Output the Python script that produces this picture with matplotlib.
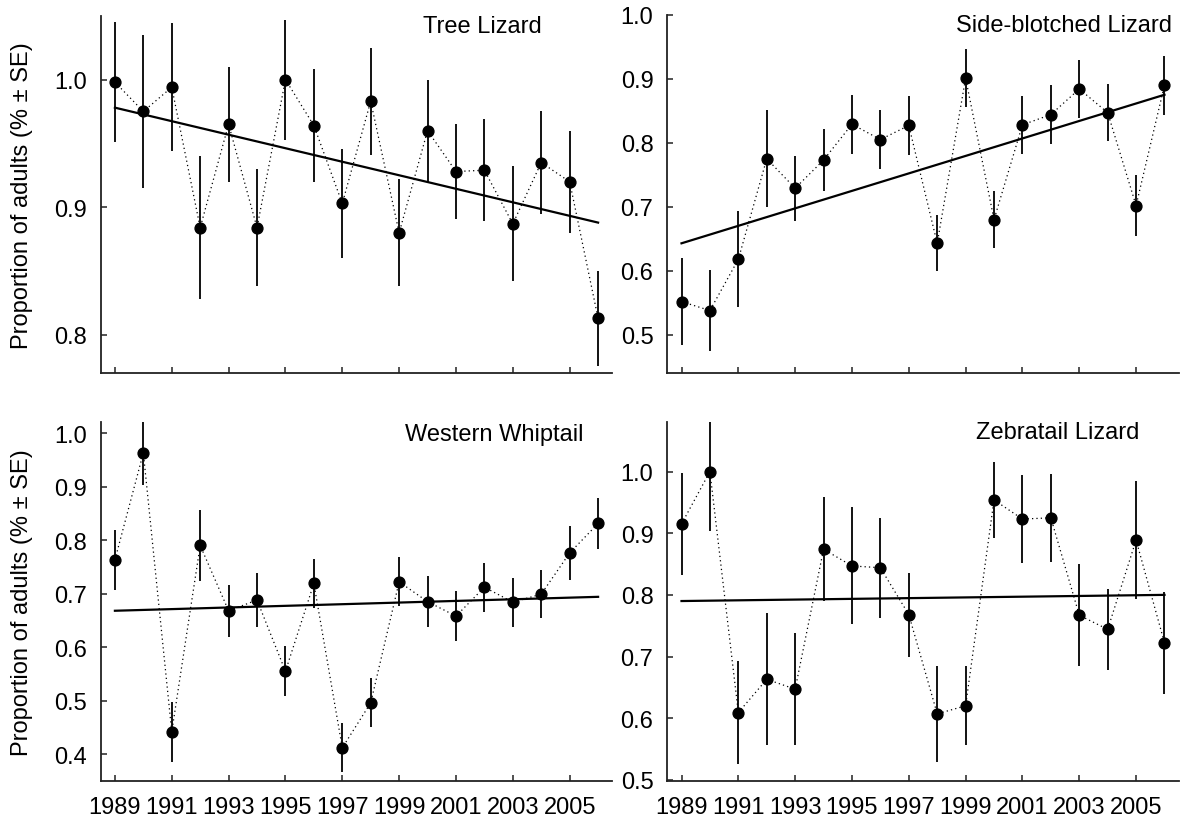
import numpy as np
import matplotlib
matplotlib.use("Agg")
import matplotlib.pyplot as plt

plt.rcParams['font.family'] = ['Liberation Sans', 'DejaVu Sans']

years = np.arange(1989, 2007)

tree_mean = [0.998, 0.975, 0.994, 0.884, 0.965, 0.884, 1.000, 0.964, 0.903, 0.983,
             0.880, 0.960, 0.928, 0.929, 0.887, 0.935, 0.920, 0.813]
tree_se = [0.047, 0.060, 0.050, 0.056, 0.045, 0.046, 0.047, 0.044, 0.043, 0.042,
           0.042, 0.040, 0.037, 0.040, 0.045, 0.040, 0.040, 0.037]
tree_trend = [0.978, 0.888]

side_mean = [0.552, 0.538, 0.618, 0.775, 0.729, 0.773, 0.829, 0.805, 0.827, 0.643,
             0.901, 0.680, 0.828, 0.844, 0.884, 0.847, 0.702, 0.890]
side_se = [0.068, 0.063, 0.075, 0.076, 0.051, 0.049, 0.046, 0.046, 0.046, 0.044,
           0.045, 0.045, 0.045, 0.046, 0.045, 0.044, 0.048, 0.046]
side_trend = [0.643, 0.875]

west_mean = [0.763, 0.963, 0.442, 0.790, 0.668, 0.688, 0.555, 0.719, 0.412, 0.496,
             0.722, 0.685, 0.658, 0.712, 0.684, 0.699, 0.776, 0.831]
west_se = [0.056, 0.060, 0.056, 0.066, 0.049, 0.050, 0.047, 0.046, 0.046, 0.046,
           0.046, 0.047, 0.046, 0.046, 0.046, 0.045, 0.050, 0.047]
west_trend = [0.668, 0.694]

zebra_mean = [0.915, 1.000, 0.609, 0.663, 0.647, 0.874, 0.847, 0.844, 0.768, 0.607,
              0.620, 0.954, 0.923, 0.925, 0.767, 0.744, 0.889, 0.722]
zebra_se = [0.083, 0.096, 0.083, 0.107, 0.091, 0.084, 0.095, 0.081, 0.068, 0.078,
            0.064, 0.062, 0.071, 0.071, 0.083, 0.066, 0.095, 0.083]
zebra_trend = [0.790, 0.800]

titles = ["Tree Lizard", "Side-blotched Lizard", "Western Whiptail", "Zebratail Lizard"]
xtick_years = np.arange(1989, 2006, 2)

fig = plt.figure(figsize=(11.81, 8.20), dpi=100)
W, H = 1181, 820

def ax_at(l, r, t, b):
    return fig.add_axes([l / W, 1 - b / H, (r - l) / W, (b - t) / H])

axes = [ax_at(100.7, 612.3, 16.7, 374.3), ax_at(667.3, 1178.7, 15.7, 374.3),
        ax_at(100.7, 612.3, 423.3, 782), ax_at(667.3, 1178.7, 423.3, 782)]
means = [tree_mean, side_mean, west_mean, zebra_mean]
ses = [tree_se, side_se, west_se, zebra_se]
trends = [tree_trend, side_trend, west_trend, zebra_trend]
ylims = [(0.77, 1.05), (0.44, 1.0), (0.35, 1.02), (0.498, 1.08)]
yticks = [[0.8, 0.9, 1.0], [0.5, 0.6, 0.7, 0.8, 0.9, 1.0],
          [0.4, 0.5, 0.6, 0.7, 0.8, 0.9, 1.0], [0.5, 0.6, 0.7, 0.8, 0.9, 1.0]]
title_pos = [(0.8626, 0.971), (0.986, 0.971), (0.9435, 0.967), (0.923, 0.973)]

for i, ax in enumerate(axes):
    m = np.array(means[i]); s = np.array(ses[i])
    ax.plot(years, m, ls=(0, (1, 2.5)), color='black', lw=0.9, zorder=2)
    ax.errorbar(years, m, yerr=s, fmt='none', ecolor='black', elinewidth=1.3, capsize=0, zorder=3)
    ax.plot(years, m, 'o', color='black', ms=7.8, zorder=4)
    ax.plot([years[0], years[-1]], trends[i], color='black', lw=1.6, zorder=3)
    ax.set_xlim(1988.5, 2006.5)
    ax.set_ylim(*ylims[i])
    ax.set_yticks(yticks[i])
    ax.set_yticklabels([f"{v:.1f}" for v in yticks[i]])
    ax.set_xticks(xtick_years)
    if i >= 2:
        ax.set_xticklabels([str(y) for y in xtick_years])
    else:
        ax.set_xticklabels([])
    for sp in ['top', 'right']:
        ax.spines[sp].set_visible(False)
    for sp in ['left', 'bottom']:
        ax.spines[sp].set_linewidth(1.3)
        ax.spines[sp].set_color('#222222')
    ax.tick_params(axis='both', direction='in', length=4, width=1.1, color='#222222',
                   labelsize=17)
    ax.tick_params(axis='y', pad=10)
    ax.tick_params(axis='x', pad=11)
    ax.text(title_pos[i][0], title_pos[i][1], titles[i], transform=ax.transAxes,
            ha='right', va='center', fontsize=17)

for ax in (axes[0], axes[2]):
    pos = ax.get_position()
    fig.text(22 / W, (pos.y0 + pos.y1) / 2, "Proportion of adults (% \u00b1 SE)",
             rotation=90, ha='center', va='center', fontsize=17)

fig.savefig("out.png", dpi=100)
